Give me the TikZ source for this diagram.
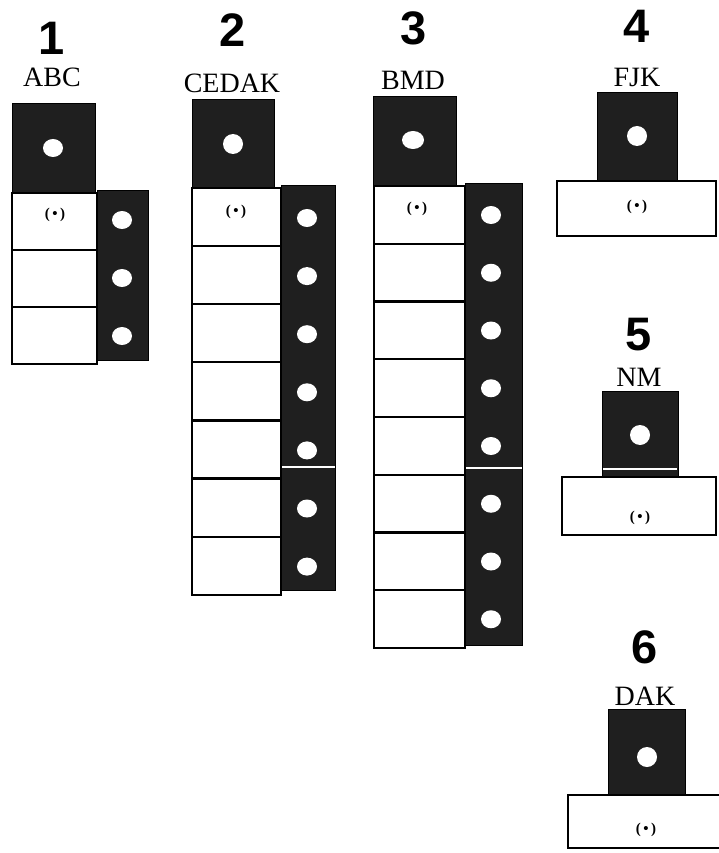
\documentclass[tikz,border=0pt]{standalone}
\usepackage{fontspec}
\setmainfont{Liberation Serif}
\setsansfont{Liberation Sans}
\usetikzlibrary{positioning}

\tikzset{
  dark/.style={fill=black!88, draw=black, line width=1pt},
  hole/.style={fill=white, draw=none},
  cell/.style={draw=black, line width=2.2pt, fill=white},
  gap/.style={draw=white, line width=2pt},
  num/.style={anchor=base, inner sep=0pt, font=\sffamily\bfseries\fontsize{47}{47}\selectfont},
  lab/.style={anchor=base, inner sep=0pt, font=\fontsize{28}{28}\selectfont},
  dotmark/.style={inner sep=0pt, font=\bfseries\fontsize{15}{15}\selectfont}
}

\begin{document}
\begin{tikzpicture}[x=1pt, y=-1pt]
\useasboundingbox (0,0) rectangle (718,853);

% 1
\begin{scope}[shift={(12,0)}]
\node[num] (num1) at (40,55) {1};
\node[lab] (lab1) at (40,87) {ABC};
\draw[dark] (0,104) rectangle (83,193);
\fill[hole] (41,148) ellipse [x radius=10, y radius=9];
\draw[dark] (85,190) rectangle (136,360);
\foreach \i in {0,...,2}
  \draw[cell] (0,{193+57*\i}) rectangle (85,{193+57*(\i+1)});
\foreach \i in {0,...,2}
  \fill[hole] (110,{220+58*\i}) ellipse [x radius=10, y radius=9];
\node[dotmark] (dot1) at (43,215) {(\,\textbullet\,)};
\end{scope}

% 2
\begin{scope}[shift={(192,0)}]
\node[num] (num2) at (41,47) {2};
\node[lab] (lab2) at (40,93) {CEDAK};
\draw[dark] (0,100) rectangle (82,188);
\fill[hole] (41,144) ellipse [x radius=10, y radius=10];
\draw[dark] (89,185) rectangle (143,590);
\draw[gap] (89,467) -- (143,467);
\foreach \i in {0,...,6}
  \draw[cell] (0,{188+58.1*\i}) rectangle (89,{188+58.1*(\i+1)});
\foreach \i in {0,...,6}
  \fill[hole] (115,{218+58.1*\i}) ellipse [x radius=10, y radius=9];
\node[dotmark] (dot2) at (44,212) {(\,\textbullet\,)};
\end{scope}

% 3
\begin{scope}[shift={(374,0)}]
\node[num] (num3) at (40,45) {3};
\node[lab] (lab3) at (39,90) {BMD};
\draw[dark] (-1,97) rectangle (82,186);
\fill[hole] (39,140) ellipse [x radius=11, y radius=9];
\draw[dark] (91,183) rectangle (148,645);
\draw[gap] (91,468) -- (148,468);
\foreach \i in {0,...,7}
  \draw[cell] (0,{186+57.75*\i}) rectangle (91,{186+57.75*(\i+1)});
\foreach \i in {0,...,7}
  \fill[hole] (117,{215+57.75*\i}) ellipse [x radius=10, y radius=9];
\node[dotmark] (dot3) at (43,209) {(\,\textbullet\,)};
\end{scope}

% 4
\begin{scope}[shift={(557,0)}]
\node[num] (num4) at (80,43) {4};
\node[lab] (lab4) at (80,87) {FJK};
\draw[dark] (40,93) rectangle (120,181);
\fill[hole] (80,136) ellipse [x radius=10, y radius=10];
\draw[cell] (0,181) rectangle (159,236);
\node[dotmark] (dot4) at (80,207) {(\,\textbullet\,)};
\end{scope}

% 5
\begin{scope}[shift={(562,0)}]
\node[num] (num5) at (77,350) {5};
\node[lab] (lab5) at (77,386) {NM};
\draw[dark] (40,391) rectangle (116,477);
\draw[gap] (41,469) -- (115,469);
\fill[hole] (78,435) ellipse [x radius=10, y radius=10];
\draw[cell] (0,477) rectangle (154,535);
\node[dotmark] (dot5) at (78,518) {(\,\textbullet\,)};
\end{scope}

% 6
\begin{scope}[shift={(568,0)}]
\node[num] (num6) at (77,663) {6};
\node[lab] (lab6) at (77,705) {DAK};
\draw[dark] (40,709) rectangle (117,795);
\fill[hole] (79,757) ellipse [x radius=10, y radius=10];
\draw[cell] (0,795) rectangle (160,848);
\node[dotmark] (dot6) at (78,830) {(\,\textbullet\,)};
\end{scope}

\end{tikzpicture}
\end{document}
